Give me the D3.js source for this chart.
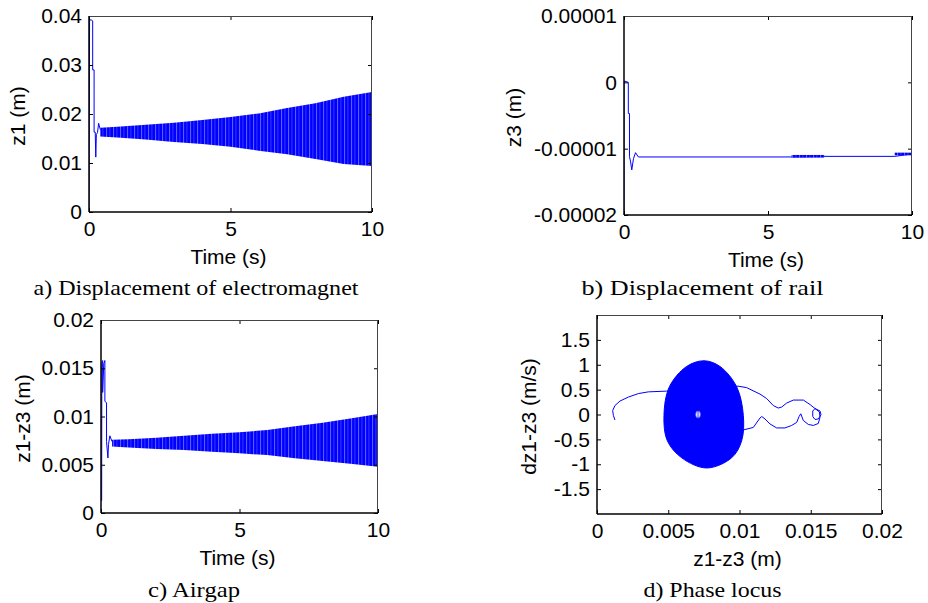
<!DOCTYPE html>
<html>
<head>
<meta charset="utf-8">
<script src="https://cdn.jsdelivr.net/npm/d3@7"></script>
<style>
  body { margin: 0; background: #fff; }
  svg { display: block; }
  .tick text { font-family: "Liberation Sans", Arial, sans-serif; font-size: 21px; fill: #000; }
  .tick line { stroke: #000; stroke-width: 1; }
  .axis-title { font-family: "Liberation Sans", Arial, sans-serif; font-size: 21px; fill: #000; }
  .caption { font-family: "Liberation Serif", "Times New Roman", serif; font-size: 22px; fill: #000; }
</style>
</head>
<body>
<svg id="fig" width="928" height="603"></svg>
<script>
// ---- shared tick sets ----
const timeTicks = [0, 5, 10];
const timeTickLabels = ["0", "5", "10"];

// ---- a) displacement of electromagnet, z1 (m) ----
const z1Ticks = [0, 0.01, 0.02, 0.03, 0.04];
const z1TickLabels = ["0", "0.01", "0.02", "0.03", "0.04"];
const z1StartT = [0, 0.02, 0.03, 0.08, 0.13, 0.13, 0.18, 0.18, 0.22, 0.24, 0.26, 0.3, 0.34, 0.4];
const z1StartZ = [0, 0.039, 0.0392, 0.0392, 0.039, 0.029, 0.029, 0.0163, 0.0163, 0.0112, 0.0158, 0.0162, 0.0181, 0.0168];
const z1BandT  = [0.4, 1, 2, 3, 4, 5, 6, 7, 8, 9, 10];
const z1BandHi = [0.0172, 0.0174, 0.0178, 0.0182, 0.0188, 0.0194, 0.0201, 0.0212, 0.0222, 0.0235, 0.0245];
const z1BandLo = [0.0154, 0.0152, 0.0148, 0.0143, 0.0139, 0.0133, 0.0125, 0.0118, 0.0108, 0.0098, 0.0094];

// ---- b) displacement of rail, z3 (m) ----
const z3Ticks = [-0.00002, -0.00001, 0, 0.00001];
const z3TickLabels = ["-0.00002", "-0.00001", "0", "0.00001"];
const z3T = [0, 0, 0.01, 0.15, 0.15, 0.19, 0.19, 0.23, 0.27, 0.33, 0.4, 0.5, 5.82, 6.95, 9.4, 10];
const z3Z = [-2.0e-5, 0, 0.02e-5, 0, -0.47e-5, -0.47e-5, -1.12e-5, -1.2e-5, -1.32e-5, -1.15e-5, -1.06e-5, -1.125e-5, -1.125e-5, -1.116e-5, -1.116e-5, -1.08e-5];
const z3NoiseStart = [5.82, 9.4];
const z3NoiseEnd   = [6.95, 10];
const z3NoiseLo    = [-1.135e-5, -1.1e-5];
const z3NoiseHi    = [-1.095e-5, -1.06e-5];

// ---- c) airgap, z1-z3 (m) ----
const gapTicks = [0, 0.005, 0.01, 0.015, 0.02];
const gapTickLabels = ["0", "0.005", "0.01", "0.015", "0.02"];
const gapStartT = [0, 0.024, 0.03, 0.06, 0.06, 0.1, 0.14, 0.14, 0.2, 0.2, 0.25, 0.27, 0.32, 0.4];
const gapStartZ = [0.0013, 0.0013, 0.0155, 0.0158, 0.0125, 0.0155, 0.0158, 0.0116, 0.0114, 0.0074, 0.0057, 0.0071, 0.008, 0.0074];
const gapBandT  = [0.4, 1, 2, 3, 4, 5, 6, 7, 8, 9, 10];
const gapBandHi = [0.0076, 0.00765, 0.0078, 0.008, 0.0082, 0.00836, 0.0086, 0.009, 0.00936, 0.0098, 0.01026];
const gapBandLo = [0.0069, 0.0068, 0.00663, 0.00653, 0.00635, 0.00618, 0.006, 0.00567, 0.0054, 0.0051, 0.0048];

// ---- d) phase locus: velocity dz1-z3 (m/s) against airgap (m) ----
const phaseXTicks = [0, 0.005, 0.01, 0.015, 0.02];
const phaseXTickLabels = ["0", "0.005", "0.01", "0.015", "0.02"];
const phaseVTicks = [-1.5, -1, -0.5, 0, 0.5, 1, 1.5];
const phaseVTickLabels = ["-1.5", "-1", "-0.5", "0", "0.5", "1", "1.5"];
const locusX = [0.00126, 0.00115, 0.0011, 0.00126, 0.00161, 0.0022, 0.0029, 0.0036, 0.00489, 0.007, 0.0099, 0.0105,
  0.01144, 0.01191, 0.01237, 0.01272, 0.01296, 0.01331, 0.01378, 0.01448, 0.01495, 0.0153, 0.01565, 0.01572,
  0.01553, 0.0153, 0.01514, 0.01514, 0.0153, 0.01561, 0.01565, 0.01553, 0.01518, 0.01483, 0.01448, 0.0143,
  0.01418, 0.01401, 0.01366, 0.01319, 0.01261, 0.01214, 0.01179, 0.01156, 0.01144, 0.01097, 0.01027, 0.009];
const locusV = [-0.11, -0.02, 0.08, 0.18, 0.27, 0.35, 0.42, 0.455, 0.47, 0.5, 0.57, 0.54,
  0.41, 0.32, 0.18, 0.13, 0.15, 0.23, 0.29, 0.29, 0.2, 0.12, 0.07, -0.006,
  -0.09, -0.1, -0.04, 0.07, 0.12, 0.05, -0.055, -0.18, -0.22, -0.2, -0.12, 0.014,
  -0.04, -0.16, -0.22, -0.27, -0.27, -0.19, -0.09, -0.04, -0.07, -0.26, -0.31, -0.3];
// outer edge of the growing limit-cycle spiral (clockwise from the top)
const cycleEdgeX = [0.00751, 0.00863, 0.0098, 0.01027, 0.01015, 0.00945, 0.0077, 0.00594, 0.00494, 0.0047, 0.00508, 0.00629];
const cycleEdgeV = [1.08, 0.966, 0.557, -0.02, -0.53, -0.87, -1.075, -0.87, -0.53, -0.02, 0.557, 0.966];
// the initial small orbit at the centre of the spiral
const coreX = [0.00709];
const coreV = [0];
const coreHalfX = [0.00016];
const coreHalfV = [0.07];

// ---- layout ----
const svg = d3.select("#fig");
const defs = svg.append("defs");
const blue = "#0000ff";

// dense oscillation rendered as vertical strokes
const pat = defs.append("pattern").attr("id", "osc").attr("patternUnits", "userSpaceOnUse")
  .attr("width", 7).attr("height", 10);
pat.append("rect").attr("width", 7).attr("height", 10).attr("fill", blue);
pat.append("line").attr("x1", 1.6).attr("x2", 1.6).attr("y1", 0).attr("y2", 10)
  .attr("stroke", "#fff").attr("stroke-opacity", 0.5).attr("stroke-width", 0.8);
pat.append("line").attr("x1", 4.9).attr("x2", 4.9).attr("y1", 0).attr("y2", 10)
  .attr("stroke", "#fff").attr("stroke-opacity", 0.3).attr("stroke-width", 0.7);

const panels = {
  a: { x0: 89, x1: 372, y0: 16, y1: 212 },
  b: { x0: 624, x1: 912, y0: 16, y1: 215 },
  c: { x0: 101, x1: 378, y0: 320, y1: 513 },
  d: { x0: 597, x1: 882, y0: 315, y1: 514 }
};

function makePanel(key, xDomain, yDomain, xt, xtl, yt, ytl) {
  const b = panels[key];
  const x = d3.scaleLinear().domain(xDomain).range([b.x0, b.x1]);
  const y = d3.scaleLinear().domain(yDomain).range([b.y1, b.y0]);
  const g = svg.append("g");
  defs.append("clipPath").attr("id", "clip-" + key).append("rect")
    .attr("x", b.x0).attr("y", b.y0).attr("width", b.x1 - b.x0).attr("height", b.y1 - b.y0);
  const plot = g.append("g").attr("clip-path", `url(#clip-${key})`);
  const axes = g.append("g");
  const tl = 4;
  const strip = s => s.select(".domain").remove();
  axes.append("g").attr("transform", `translate(0,${b.y1})`)
    .call(d3.axisBottom(x).tickValues(xt).tickFormat((d, i) => xtl[i]).tickSize(-tl).tickSizeOuter(0).tickPadding(9))
    .call(strip);
  axes.append("g").attr("transform", `translate(0,${b.y0})`)
    .call(d3.axisTop(x).tickValues(xt).tickFormat("").tickSize(-tl).tickSizeOuter(0))
    .call(strip);
  axes.append("g").attr("transform", `translate(${b.x0},0)`)
    .call(d3.axisLeft(y).tickValues(yt).tickFormat((d, i) => ytl[i]).tickSize(-tl).tickSizeOuter(0).tickPadding(7))
    .call(strip);
  axes.append("g").attr("transform", `translate(${b.x1},0)`)
    .call(d3.axisRight(y).tickValues(yt).tickFormat("").tickSize(-tl).tickSizeOuter(0))
    .call(strip);
  axes.selectAll(".tick text").attr("font-family", null).attr("font-size", null);
  // box: darker left/bottom, lighter top/right
  axes.append("line").attr("x1", b.x0).attr("x2", b.x1).attr("y1", b.y0 + 0.5).attr("y2", b.y0 + 0.5)
    .attr("stroke", "#444").attr("stroke-width", 1);
  axes.append("line").attr("x1", b.x1 - 0.5).attr("x2", b.x1 - 0.5).attr("y1", b.y0).attr("y2", b.y1)
    .attr("stroke", "#444").attr("stroke-width", 1);
  axes.append("line").attr("x1", b.x0).attr("x2", b.x1).attr("y1", b.y1).attr("y2", b.y1)
    .attr("stroke", "#000").attr("stroke-width", 1.5);
  axes.append("line").attr("x1", b.x0).attr("x2", b.x0).attr("y1", b.y0).attr("y2", b.y1)
    .attr("stroke", "#000").attr("stroke-width", 1.5);
  return { x, y, plot, g, b };
}

function titles(p, xTitle, yTitle, yTitleX, caption, capX, capY, capLen) {
  const b = p.b;
  svg.append("text").attr("class", "axis-title").attr("text-anchor", "middle")
    .attr("x", (b.x0 + b.x1) / 2 - 2).attr("y", b.y1 + 52).text(xTitle);
  svg.append("text").attr("class", "axis-title").attr("text-anchor", "middle")
    .attr("dominant-baseline", "central")
    .attr("transform", `translate(${yTitleX},${(b.y0 + b.y1) / 2 + 2}) rotate(-90)`).text(yTitle);
  svg.append("text").attr("class", "caption").attr("text-anchor", "middle")
    .attr("x", capX).attr("y", capY)
    .attr("textLength", capLen).attr("lengthAdjust", "spacingAndGlyphs").text(caption);
}

function drawTrace(p, tArr, zArr) {
  const line = d3.line().x(i => p.x(tArr[i])).y(i => p.y(zArr[i]));
  p.plot.append("path").attr("d", line(d3.range(tArr.length)))
    .attr("fill", "none").attr("stroke", blue).attr("stroke-width", 1).attr("stroke-linejoin", "round");
}

function drawBand(p, tArr, hiArr, loArr) {
  const area = d3.area().x(i => p.x(tArr[i])).y0(i => p.y(loArr[i])).y1(i => p.y(hiArr[i]));
  p.plot.append("path").attr("d", area(d3.range(tArr.length))).attr("fill", "url(#osc)");
}

// a)
const pa = makePanel("a", [0, 10], [0, 0.04], timeTicks, timeTickLabels, z1Ticks, z1TickLabels);
drawTrace(pa, z1StartT, z1StartZ);
drawBand(pa, z1BandT, z1BandHi, z1BandLo);
titles(pa, "Time (s)", "z1 (m)", 17, "a) Displacement of electromagnet", 196, 295, 325);

// b)
const pb = makePanel("b", [0, 10], [-0.00002, 0.00001], timeTicks, timeTickLabels, z3Ticks, z3TickLabels);
drawTrace(pb, z3T, z3Z);
z3NoiseStart.forEach((t0, i) => {
  pb.plot.append("rect")
    .attr("x", pb.x(t0)).attr("width", pb.x(z3NoiseEnd[i]) - pb.x(t0))
    .attr("y", pb.y(z3NoiseHi[i])).attr("height", pb.y(z3NoiseLo[i]) - pb.y(z3NoiseHi[i]))
    .attr("fill", "url(#osc)");
});
titles(pb, "Time (s)", "z3 (m)", 513, "b) Displacement of rail", 702.5, 295, 242);

// c)
const pc = makePanel("c", [0, 10], [0, 0.02], timeTicks, timeTickLabels, gapTicks, gapTickLabels);
drawTrace(pc, gapStartT, gapStartZ);
drawBand(pc, gapBandT, gapBandHi, gapBandLo);
titles(pc, "Time (s)", "z1-z3 (m)", 22, "c) Airgap", 194, 597, 92);

// d)
const pd = makePanel("d", [0, 0.02], [-2, 2], phaseXTicks, phaseXTickLabels, phaseVTicks, phaseVTickLabels);
drawTrace(pd, locusX, locusV);
const edge = d3.line().x(i => pd.x(cycleEdgeX[i])).y(i => pd.y(cycleEdgeV[i])).curve(d3.curveCatmullRomClosed);
pd.plot.append("path").attr("d", edge(d3.range(cycleEdgeX.length))).attr("fill", blue).attr("stroke", blue);
coreX.forEach((cx, i) => {
  pd.plot.append("ellipse")
    .attr("cx", pd.x(cx)).attr("cy", pd.y(coreV[i]))
    .attr("rx", pd.x(cx + coreHalfX[i]) - pd.x(cx))
    .attr("ry", pd.y(coreV[i] - coreHalfV[i]) - pd.y(coreV[i]))
    .attr("fill", "#fff").attr("stroke", "#6a6aff").attr("stroke-width", 0.8);
  pd.plot.append("line")
    .attr("x1", pd.x(cx)).attr("x2", pd.x(cx))
    .attr("y1", pd.y(coreV[i] + coreHalfV[i])).attr("y2", pd.y(coreV[i] - coreHalfV[i]))
    .attr("stroke", blue).attr("stroke-width", 0.8);
});
titles(pd, "z1-z3 (m)", "dz1-z3 (m/s)", 528, "d) Phase locus", 712.5, 597, 138);
</script>
</body>
</html>
